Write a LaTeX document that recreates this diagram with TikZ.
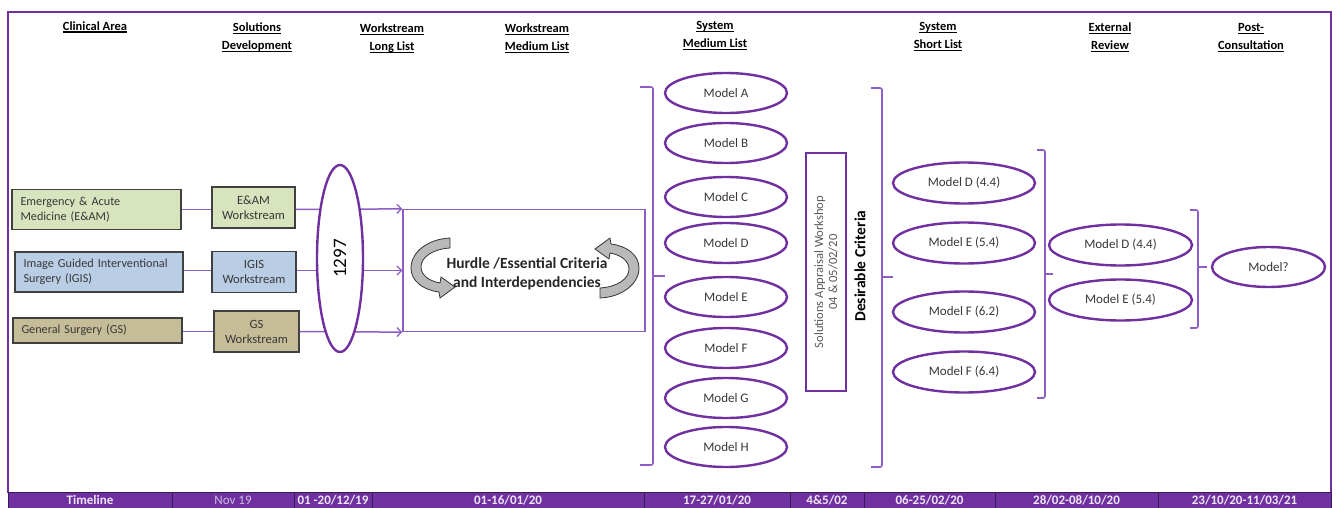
\documentclass[tikz,border=0pt]{standalone}
\usepackage{fontspec}
\setmainfont{Carlito}
\usetikzlibrary{arrows.meta,shapes.geometric,calc}

\definecolor{purp}{RGB}{112,48,160}
\definecolor{lpurp}{RGB}{140,94,198}
\definecolor{greenbox}{RGB}{215,228,189}
\definecolor{bluebox}{RGB}{185,205,229}
\definecolor{tanbox}{RGB}{196,189,151}
\definecolor{txt}{RGB}{56,56,56}
\definecolor{barfg}{RGB}{238,230,248}
\definecolor{barfgdim}{RGB}{205,190,228}
\definecolor{barline}{RGB}{55,25,85}

% underlined column heading, with a heavier rule than \underline
\newcommand\hdu[1]{\setbox0=\hbox{#1}\rlap{\copy0}\rule[-2.4pt]{\wd0}{1.2pt}}

\tikzset{
  hdr/.style={font=\fontsize{12.5}{18}\selectfont\bfseries, align=center, inner sep=0pt},
  area/.style={rectangle, draw=black!75, line width=1.1pt, minimum height=40pt,
    inner xsep=8.5pt, inner ysep=0pt, align=left, text=txt,
    font=\fontsize{12.2}{15}\selectfont},
  wsbox/.style={rectangle, draw=black!75, line width=1.1pt, inner sep=0pt,
    align=center, text=txt, font=\fontsize{12.6}{15}\selectfont},
  model/.style={ellipse, draw=purp, line width=2.4pt, fill=white, inner sep=0pt,
    minimum width=122pt, minimum height=40pt, text=txt,
    font=\fontsize{13}{15}\selectfont},
  conn/.style={draw=lpurp, line width=1.5pt},
  arr/.style={conn, -{Straight Barb[length=4.5pt,width=9pt,line width=1.3pt]}},
  brk/.style={draw=lpurp, line width=1.6pt, rounded corners=2pt},
  loop/.style={fill=gray!55, draw=black!80, line width=0.8pt},
  tcell/.style={rectangle, fill=purp, draw=barline, line width=0.8pt,
    minimum height=16pt, inner sep=0pt, text=barfg,
    font=\fontsize{13}{13}\selectfont\bfseries},
}

\begin{document}
\begin{tikzpicture}[x=1pt,y=-1pt]
\useasboundingbox (0,0) rectangle (1336,508);

% outer frame
\draw[purp, line width=2.4pt] (8,493) -- (8,12) -- (1331,12) -- (1331,508);

% column headings
\node[hdr] (h1) at (95,27) {\hdu{Clinical Area}};
\node[hdr] (h2) at (257,37.5) {\hdu{Solutions}\\\hdu{Development}};
\node[hdr] (h3) at (392,38.5) {\hdu{Workstream}\\\hdu{Long List}};
\node[hdr] (h4) at (537,38.5) {\hdu{Workstream}\\\hdu{Medium List}};
\node[hdr] (h5) at (715,35.5) {\hdu{System}\\\hdu{Medium List}};
\node[hdr] (h6) at (938,36.5) {\hdu{System}\\\hdu{Short List}};
\node[hdr] (h7) at (1110,37.5) {\hdu{External}\\\hdu{Review}};
\node[hdr] (h8) at (1251,37.5) {\hdu{Post-}\\\hdu{Consultation}};

% clinical areas
\node[area, fill=greenbox, text width=152pt] (ca1) at (96.5,209.5) {Emergency \& Acute\\Medicine (E\&AM)};
\node[area, fill=bluebox, text width=151pt] (ca2) at (99,272) {Image Guided Interventional\\Surgery (IGIS)};
\node[area, fill=tanbox, text width=152pt, minimum height=25pt] (ca3) at (97.5,330.5) {General Surgery (GS)};

% workstreams
\node[wsbox, fill=greenbox, minimum width=83pt, minimum height=41pt] (ws1) at (253.5,207.5) {E\&AM\\Workstream};
\node[wsbox, fill=bluebox, minimum width=84pt, minimum height=41pt] (ws2) at (254,272) {IGIS\\Workstream};
\node[wsbox, fill=tanbox, minimum width=85pt, minimum height=41pt] (ws3) at (256.5,331.5) {GS\\Workstream};

% hurdle / essential criteria box
\node[rectangle, draw=lpurp, line width=1.3pt, minimum width=242pt, minimum height=122pt, inner sep=0pt] (hb) at (524,270.5) {};

% row levels of the three streams
\coordinate (r1) at (0,209.5);
\coordinate (r2) at (0,270.5);
\coordinate (r3) at (0,331.5);

\draw[conn] (ca1.east |- r1) -- (ws1.west |- r1);
\draw[conn] (ca2.east |- r2) -- (ws2.west |- r2);
\draw[conn] (ca3.east |- r3) -- (ws3.west |- r3);
\draw[arr] (ws1.east |- r1) -- (hb.north west);
\draw[arr] (ws2.east |- r2) -- (hb.west);
\draw[arr] (ws3.east |- r3) -- (hb.south west);

% long list total
\node[ellipse, rotate=90, draw=purp, line width=2.4pt, fill=white, inner sep=0pt,
      minimum width=187pt, minimum height=46pt, font=\fontsize{19}{19}\selectfont] (ll) at (340,258.5) {1297};

% circular arrows round the criteria
\path[loop] (450,238) .. controls (428,239) and (411,252) .. (411,268)
  .. controls (411,281) and (423,290) .. (439,292)
  -- (440,298) -- (455,287) -- (441,277) -- (440,283)
  .. controls (429,281) and (421,275) .. (421,267)
  .. controls (421,257) and (433,249) .. (450,248) -- cycle;
\begin{scope}[rotate around={180:(525,268)}]
\path[loop] (450,238) .. controls (428,239) and (411,252) .. (411,268)
  .. controls (411,281) and (423,290) .. (439,292)
  -- (440,298) -- (455,287) -- (441,277) -- (440,283)
  .. controls (429,281) and (421,275) .. (421,267)
  .. controls (421,257) and (433,249) .. (450,248) -- cycle;
\end{scope}
\node[align=center, inner sep=0pt, text=black!85, font=\fontsize{15.5}{19}\selectfont\bfseries] (ht) at ($(hb.center)+(3,3.5)$) {Hurdle /Essential Criteria\\and Interdependencies};

% grouping brackets
\draw[brk] (640,87) -- (653,87) -- (653,465) -- (640,465);
\draw[brk] (653,276) -- (665,276);
\draw[brk] (871,88) -- (882,88) -- (882,467) -- (871,467);
\draw[brk] (882,277) -- (893,277);
\draw[brk] (1037,150) -- (1045,150) -- (1045,398) -- (1037,398);
\draw[brk] (1045,274) -- (1053,274);
\draw[brk] (1190,210) -- (1198,210) -- (1198,328) -- (1190,328);
\draw[brk] (1198,267) -- (1207,267);

% system medium list
\node[model] (mA) at (726,93) {Model A};
\node[model] (mB) at (726,143) {Model B};
\node[model] (mC) at (726,197) {Model C};
\node[model] (mD) at (726,243) {Model D};
\node[model] (mE) at (726,297) {Model E};
\node[model] (mF) at (726,348) {Model F};
\node[model] (mG) at (726,398) {Model G};
\node[model] (mH) at (726,447) {Model H};

% appraisal workshop and desirable criteria
\node[rectangle, rotate=90, draw=purp, line width=1.2pt, minimum width=238pt, minimum height=40pt,
      inner sep=0pt, align=center, text=black!65, font=\fontsize{12.6}{14}\selectfont] (wk) at (826,272)
      {Solutions Appraisal Workshop\\04 \& 05/02/20};
\node[rotate=90, inner sep=0pt, font=\fontsize{15.5}{16}\selectfont\bfseries] (dc) at (860,266) {Desirable Criteria};

% system short list
\node[model, minimum width=142pt, minimum height=41pt] (s1) at (964,183) {Model D (4.4)};
\node[model, minimum width=142pt, minimum height=41pt] (s2) at (964,243) {Model E (5.4)};
\node[model, minimum width=142pt, minimum height=41pt] (s3) at (964,312) {Model F (6.2)};
\node[model, minimum width=142pt, minimum height=41pt] (s4) at (964,372) {Model F (6.4)};

% external review
\node[model, minimum width=143pt, minimum height=41pt] (e1) at (1120.5,245) {Model D (4.4)};
\node[model, minimum width=143pt, minimum height=41pt] (e2) at (1120.5,300) {Model E (5.4)};

% post-consultation
\node[model, minimum width=113pt, minimum height=40pt] (pc) at (1268.5,267) {Model?};

% timeline bar
\node[tcell, minimum width=164pt] (t1) at (90,500) {Timeline};
\node[tcell, minimum width=122pt, text=barfgdim, font=\fontsize{13}{13}\selectfont] (t2) at (233,500) {Nov 19};
\node[tcell, minimum width=78pt] (t3) at (333,500) {01 -20/12/19};
\node[tcell, minimum width=272pt] (t4) at (508,500) {01-16/01/20};
\node[tcell, minimum width=146pt] (t5) at (717,500) {17-27/01/20};
\node[tcell, minimum width=74pt] (t6) at (827,500) {4\&5/02};
\node[tcell, minimum width=131pt] (t7) at (929.5,500) {06-25/02/20};
\node[tcell, minimum width=163pt] (t8) at (1076.5,500) {28/02-08/10/20};
\node[tcell, minimum width=173pt] (t9) at (1244.5,500) {23/10/20-11/03/21};
\end{tikzpicture}
\end{document}
